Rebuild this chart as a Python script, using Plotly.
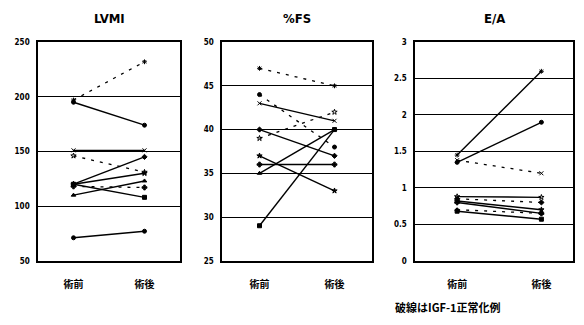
import plotly.graph_objects as go

categories = ["術前", "術後"]

# LVMI
lvmi_pre = [197, 195, 151, 146, 120, 120, 118, 110, 120, 71]
lvmi_post = [232, 174, 151, 131, 145, 130, 117, 123, 108, 77]
lvmi_igf_normal = [True, False, False, True, False, False, True, False, False, False]

# %FS
fs_pre = [47, 44, 43, 39, 40, 37, 36, 35, 29]
fs_post = [45, 38, 41, 42, 37, 33, 36, 40, 40]
fs_igf_normal = [True, True, False, True, False, False, False, False, False]

# E/A
ea_pre = [1.45, 1.35, 1.38, 0.88, 0.85, 0.82, 0.80, 0.70, 0.68]
ea_post = [2.60, 1.90, 1.20, 0.87, 0.80, 0.70, 0.65, 0.65, 0.57]
ea_igf_normal = [False, False, True, False, True, False, False, True, False]

titles = ["LVMI", "%FS", "E/A"]
y_ticks = [[50, 100, 150, 200, 250], [25, 30, 35, 40, 45, 50], [0, 0.5, 1, 1.5, 2, 2.5, 3]]
y_ticktext = [["50", "100", "150", "200", "250"], ["25", "30", "35", "40", "45", "50"],
              ["0", "0.5", "1", "1.5", "2", "2.5", "3"]]
note = "破線はIGF-1正常化例"

symbols = ["asterisk", "circle", "x-thin", "star-open", "diamond", "star", "cross", "triangle-up", "square", "circle"]

panels = [
    (lvmi_pre, lvmi_post, lvmi_igf_normal),
    (fs_pre, fs_post, fs_igf_normal),
    (ea_pre, ea_post, ea_igf_normal),
]

# page body has an 8px margin; compensate
OFF = 8
W, H = 584 - OFF, 325 - OFF


def px(x):
    return (x - OFF) / W


def py(y):
    return 1 - (y - OFF) / H


xdom = [(px(38), px(180)), (px(222), px(372)), (px(415), px(573))]
ydom = (py(264), py(39))
xranges = [[-0.5, 1.5], [-0.5, 1.5], [-0.5, 1.375]]

fig = go.Figure()
for p, (pre, post, dashed) in enumerate(panels):
    xa = "x" if p == 0 else f"x{p+1}"
    ya = "y" if p == 0 else f"y{p+1}"
    for i in range(len(pre)):
        fig.add_trace(go.Scatter(
            x=[0, 1], y=[pre[i], post[i]], xaxis=xa, yaxis=ya,
            mode="lines+markers",
            line=dict(color="black", width=1.3 if dashed[i] else 1.4,
                      dash="3px,6px" if dashed[i] else "solid"),
            marker=dict(symbol=symbols[i % len(symbols)], size=4, color="black",
                        line=dict(color="black", width=1)),
            showlegend=False, hoverinfo="skip"))

layout = dict(
    width=W, height=H, margin=dict(l=0, r=0, t=0, b=0),
    paper_bgcolor="white", plot_bgcolor="white", showlegend=False,
    font=dict(family="Noto Sans CJK JP, DejaVu Sans", color="black"),
)
yranges = [[50, 250], [25, 50], [0, 3]]
for p in range(3):
    sx = "" if p == 0 else str(p + 1)
    layout[f"xaxis{sx}"] = dict(
        domain=list(xdom[p]), range=xranges[p], tickvals=[0, 1], ticktext=categories,
        showgrid=False, zeroline=False, showline=True, linecolor="black", linewidth=1.5,
        mirror=True, ticks="", ticklabelstandoff=14,
        tickfont=dict(size=10, family="Noto Sans CJK JP", weight="bold"),
        anchor="y" if p == 0 else f"y{p+1}", fixedrange=True)
    layout[f"yaxis{sx}"] = dict(
        domain=list(ydom), range=yranges[p], tickvals=y_ticks[p], ticktext=y_ticktext[p],
        showgrid=True, gridcolor="black", gridwidth=1.3, zeroline=False,
        showline=True, linecolor="black", linewidth=1.5, mirror=True, ticks="",
        tickfont=dict(size=8, family="DejaVu Sans Condensed, DejaVu Sans", weight="bold"),
        ticklabelstandoff=5,
        anchor="x" if p == 0 else f"x{p+1}", fixedrange=True)
fig.update_layout(**layout)

title_x = [px((38 + 180) / 2), px((222 + 372) / 2), px((415 + 573) / 2)]
for p in range(3):
    fig.add_annotation(x=title_x[p], y=py(15), xref="paper", yref="paper",
                       text=titles[p], showarrow=False, xanchor="center", yanchor="middle",
                       font=dict(size=13, family="DejaVu Sans Condensed, DejaVu Sans", weight="bold"))
fig.add_annotation(x=px(393), y=py(312), xref="paper", yref="paper", text=note,
                   showarrow=False, xanchor="left", yanchor="middle",
                   font=dict(size=11, family="Noto Sans CJK JP", weight="bold"))

fig.write_html("out.html")
